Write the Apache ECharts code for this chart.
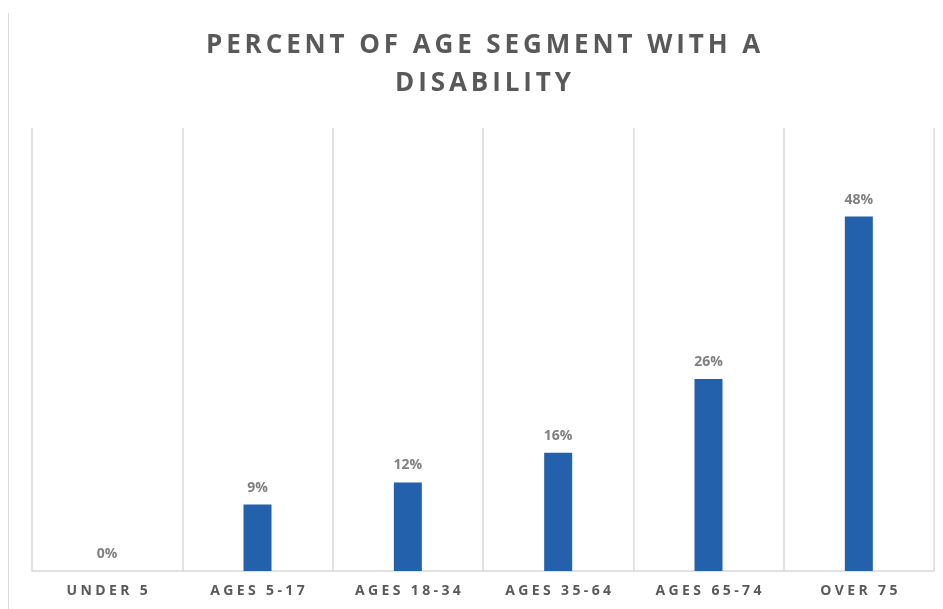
<!DOCTYPE html>
<html><head><meta charset="utf-8">
<script src="https://cdn.jsdelivr.net/npm/echarts@6/dist/echarts.min.js"></script>
<style>html,body{margin:0;padding:0;background:#fff}#c{width:943px;height:609px}</style>
</head><body><div id="c"></div>
<script>
const categories = ["UNDER 5", "AGES 5-17", "AGES 18-34", "AGES 35-64", "AGES 65-74", "OVER 75"];
const values = [0, 9, 12, 16, 26, 48];
const titleLines = ["PERCENT OF AGE SEGMENT WITH A", "DISABILITY"];

// letter spacing emulated with small rich-text spacer fragments
const spaced = s => s.split('').join('{s| }');
const chart = echarts.init(document.getElementById('c'));
chart.setOption({
  animation: false,
  backgroundColor: '#fff',
  title: {
    text: titleLines.map(spaced).join('\n'),
    left: 478, top: 22, textAlign: 'center',
    textStyle: { fontFamily: 'Open Sans', fontWeight: 'bold', fontSize: 26, color: '#595959', lineHeight: 38,
      rich: { s: { fontFamily: 'Open Sans', fontSize: 15, lineHeight: 38 } } }
  },
  graphic: [{ type: 'line', shape: { x1: 8.5, y1: 13, x2: 8.5, y2: 609 }, style: { stroke: '#d9d9d9', lineWidth: 1 } }],
  grid: { left: 32, right: 9, top: 128, bottom: 38, containLabel: false },
  xAxis: {
    type: 'category', data: categories,
    axisLine: { lineStyle: { color: '#d9d9d9', width: 1.5 } },
    axisTick: { show: false, interval: 0 },
    splitLine: { show: true, interval: 0, lineStyle: { color: '#d9d9d9', width: 1.5 } },
    axisLabel: { interval: 0, margin: 13, fontFamily: 'Open Sans', fontWeight: 'bold', fontSize: 14, color: '#595959',
      formatter: v => spaced(v),
      rich: { s: { fontFamily: 'Open Sans', fontSize: 13 } } }
  },
  yAxis: { type: 'value', min: 0, max: 60, show: false, splitLine: { show: false } },
  series: [{
    type: 'bar', data: values, barWidth: 28,
    itemStyle: { color: '#2361AD' },
    label: { show: true, position: 'top', distance: 10, formatter: '{c}%', fontFamily: 'Open Sans', fontWeight: 'bold', fontSize: 14, color: '#808080' }
  }]
});
</script></body></html>
